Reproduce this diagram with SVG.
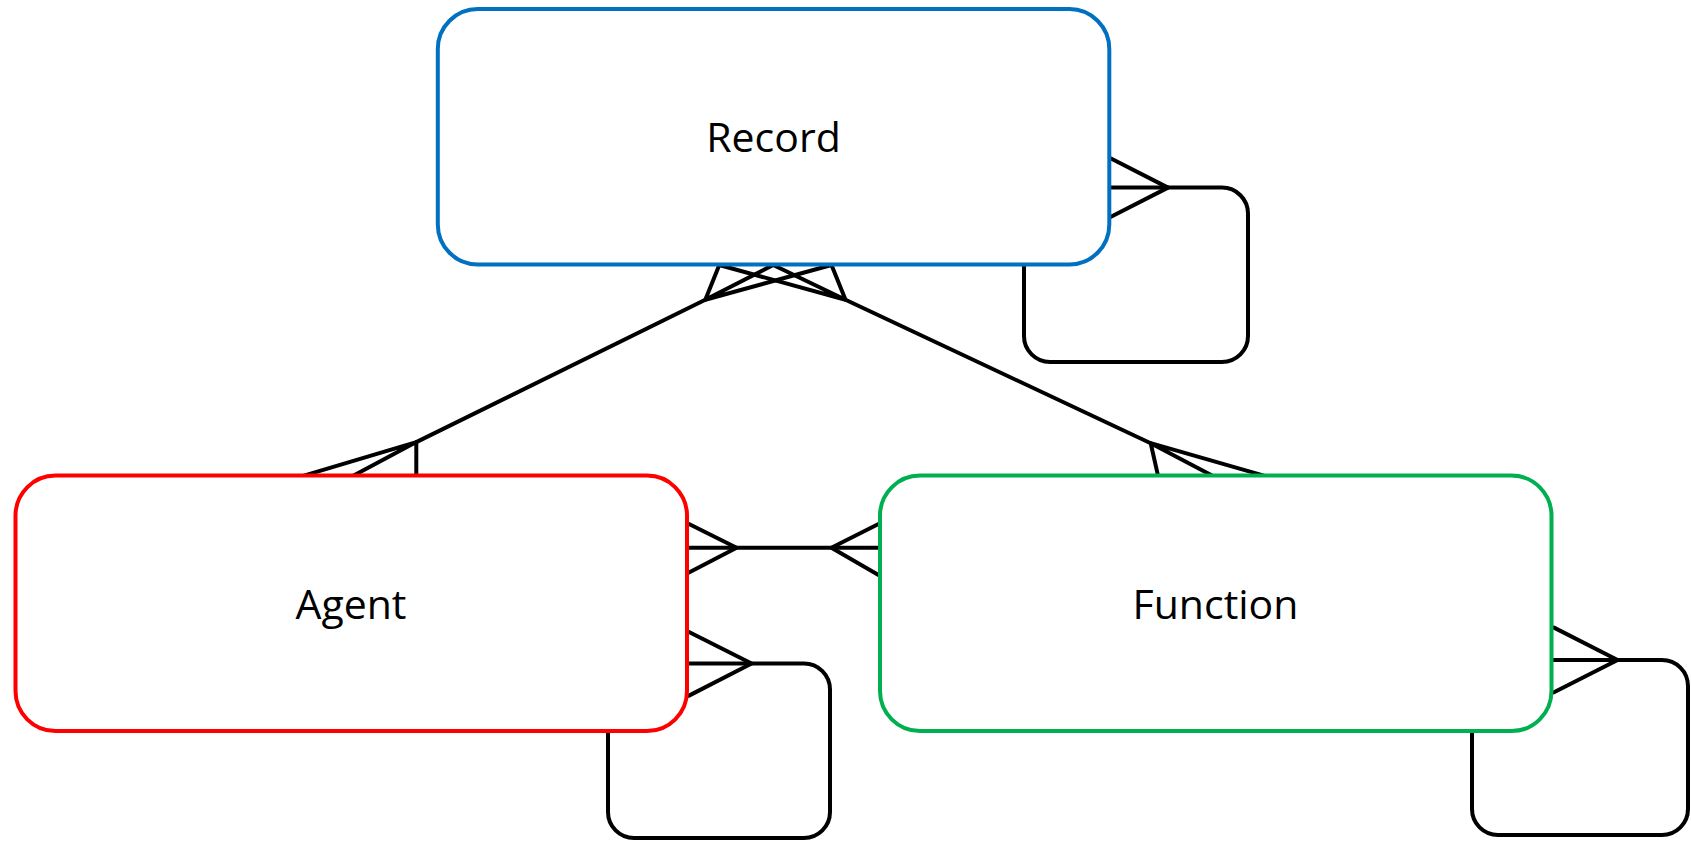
<svg xmlns="http://www.w3.org/2000/svg" width="1691" height="842" viewBox="0 0 1691 842">
<style>
.c{fill:none;stroke:#000;stroke-width:4;stroke-linejoin:round;stroke-linecap:round}
.n{fill:#fff;stroke-width:4}
.t{font-family:"Open Sans","Noto Sans",sans-serif;font-size:41px;fill:#000;text-anchor:middle}
</style>
<rect width="1691" height="842" fill="#fff"/>
<g id="connectors">
  <!-- Record self loop -->
  <path class="c" d="M1110 187.6 H1222 A26 26 0 0 1 1248 213.6 V336 A26 26 0 0 1 1222 362 H1050 A26 26 0 0 1 1024 336 V264"/>
  <path class="c" d="M1111 158.5 L1168 187.6 L1111 216.8"/>
  <!-- Agent self loop -->
  <path class="c" d="M688 663.5 H804 A26 26 0 0 1 830 689.5 V812 A26 26 0 0 1 804 838 H634 A26 26 0 0 1 608 812 V732"/>
  <path class="c" d="M689 632 L751.6 663.5 L689 695.6"/>
  <!-- Function self loop -->
  <path class="c" d="M1552 660 H1662 A26 26 0 0 1 1688 686 V809 A26 26 0 0 1 1662 835 H1498 A26 26 0 0 1 1472 809 V732"/>
  <path class="c" d="M1554 627.6 L1617.6 660 L1554 692.3"/>
  <!-- Agent - Function -->
  <path class="c" d="M688 547.8 H880"/>
  <path class="c" d="M689 524 L736.6 547.8 L689 572.6"/>
  <path class="c" d="M878.5 524 L831.4 547.8 L878.5 575"/>
  <!-- Record - Agent -->
  <path class="c" d="M416.3 442.1 L705.3 299.8"/>
  <path class="c" d="M719.3 265 L705.3 299.8 L773.2 265 M705.3 299.8 L831.5 265"/>
  <path class="c" d="M416.3 475.6 V442.1 L304 475.6 M416.3 442.1 L353.7 475.6"/>
  <!-- Record - Function -->
  <path class="c" d="M845.5 299.8 L1150.7 443.2"/>
  <path class="c" d="M831.5 265 L845.5 299.8 L773.2 265 M845.5 299.8 L719.3 265"/>
  <path class="c" d="M1158 475.6 L1150.7 443.2 L1212 475.6 M1150.7 443.2 L1263.9 475.6"/>
</g>
<g id="record">
  <rect class="n" x="437.8" y="9" width="671.5" height="255.5" rx="40" ry="40" stroke="#0070C0"/>
  <text class="t" x="773.5" y="152">Record</text>
</g>
<g id="agent">
  <rect class="n" x="15.5" y="475.6" width="671.5" height="255.5" rx="40" ry="40" stroke="#FF0000"/>
  <text class="t" x="351" y="619">Agent</text>
</g>
<g id="function">
  <rect class="n" x="880" y="475.6" width="671.5" height="255.5" rx="40" ry="40" stroke="#00B050"/>
  <text class="t" x="1215.5" y="619">Function</text>
</g>
</svg>
